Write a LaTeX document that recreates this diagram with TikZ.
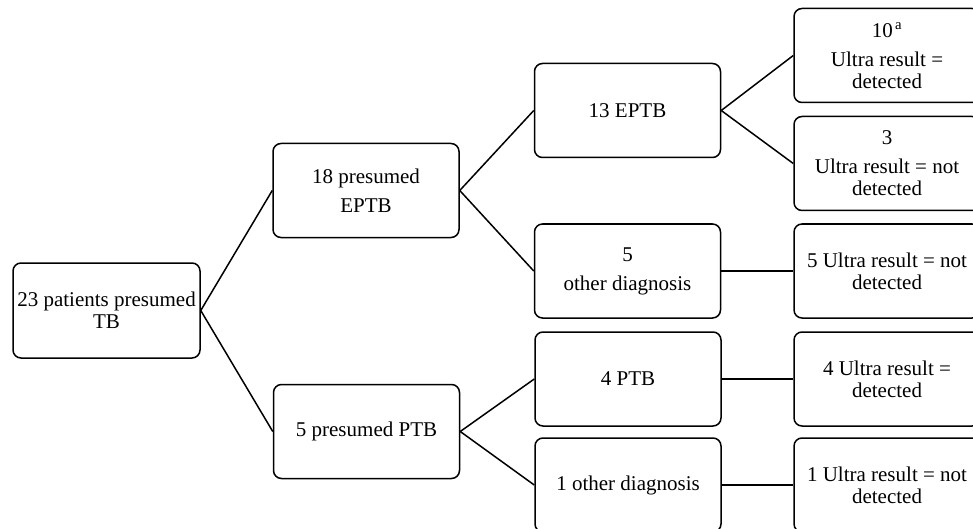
\documentclass[tikz,border=0pt]{standalone}
\usepackage{fontspec}
\setmainfont{Liberation Serif}
\begin{document}
\begin{tikzpicture}[x=1pt,y=-1pt,
  box/.style={draw=black, line width=1.5pt, rounded corners=8pt, rectangle,
    minimum width=186pt, minimum height=94pt, inner sep=0pt, align=center,
    font=\fontsize{21}{22}\selectfont},
  link/.style={draw=black, line width=1.5pt}]
\clip (0,0) rectangle (973,529);
\fill[white] (0,0) rectangle (973,529);
\node[box, minimum width=187pt, minimum height=95pt] (root) at (106.5,310.5) {23 patients presumed\\TB};
\node[box] (e18) at (366,190.5) {18 presumed\\[7pt]EPTB};
\node[box] (p5) at (366.5,431.5) {5 presumed PTB};
\node[box] (e13) at (627.5,110.5) {13 EPTB};
\node[box] (o5) at (627.5,271) {5\\[7pt]other diagnosis};
\node[box] (p4) at (628,379) {4 PTB};
\node[box] (o1) at (628,485) {1 other diagnosis};
\node[box] (ra) at (887,55.5) {10\textsuperscript{\,a}\\[7pt]Ultra result =\\detected};
\node[box] (rb) at (887,163.5) {3\\[7pt]Ultra result = not\\detected};
\node[box] (rc) at (887,271) {5 Ultra result = not\\detected};
\node[box] (rd) at (887,379) {4 Ultra result =\\detected};
\node[box] (re) at (887,485) {1 Ultra result = not\\detected};
\draw[link] (root.east) -- (e18.west);
\draw[link] (root.east) -- (p5.west);
\draw[link] (e18.east) -- (e13.west);
\draw[link] (e18.east) -- (o5.west);
\draw[link] (p5.east) -- (p4.west);
\draw[link] (p5.east) -- (o1.west);
\draw[link] (e13.east) -- (ra.west);
\draw[link] (e13.east) -- (rb.west);
\draw[link] (o5.east) -- (rc.west);
\draw[link] (p4.east) -- (rd.west);
\draw[link] (o1.east) -- (re.west);
\end{tikzpicture}
\end{document}
